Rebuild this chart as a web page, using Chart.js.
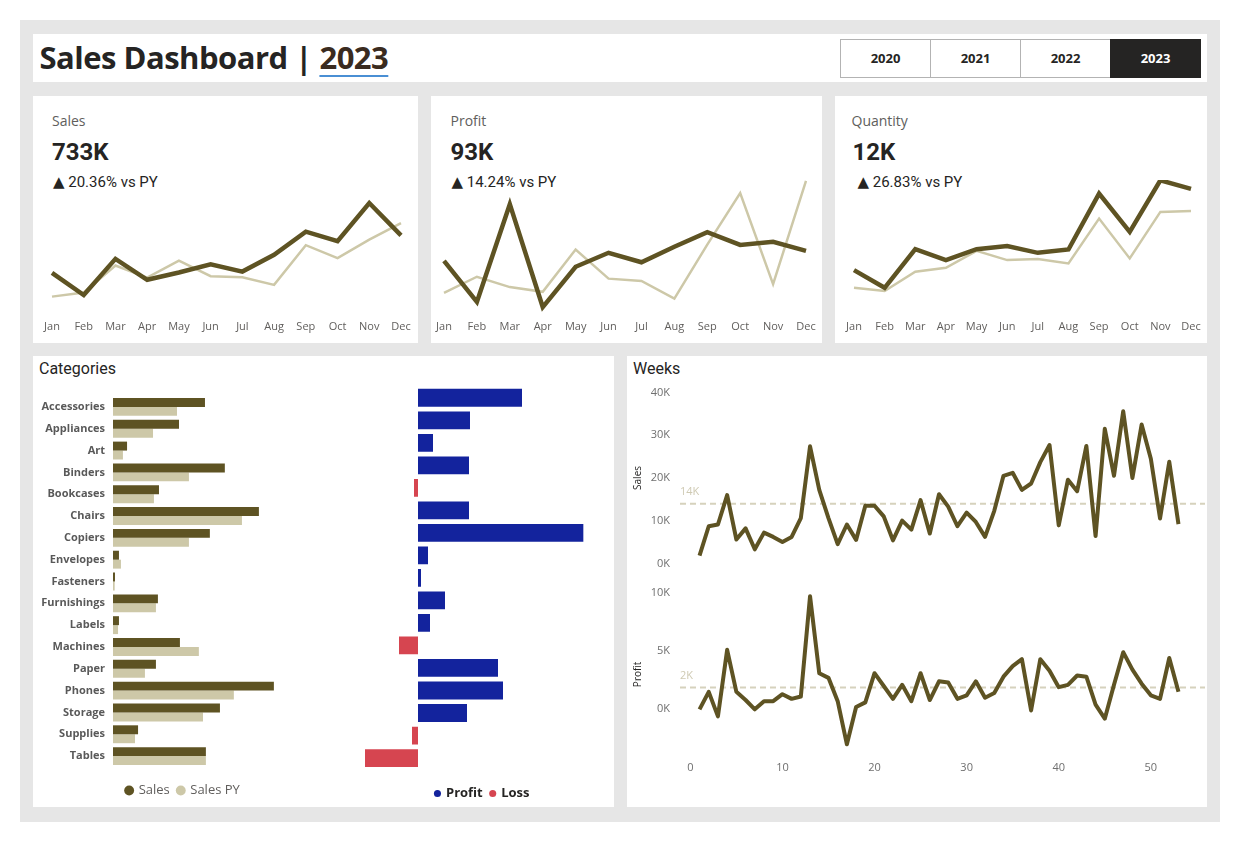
<!DOCTYPE html>
<html>
<head>
<meta charset="utf-8">
<script src="https://cdn.jsdelivr.net/npm/chart.js@4.4.0/dist/chart.umd.min.js"></script>
<style>
  body { margin: 0; width: 1242px; height: 843px; background: #fff; position: relative; overflow: hidden; font-family: "Open Sans", sans-serif; }
  .frame { position: absolute; left: 20px; top: 20px; width: 1200px; height: 802px; background: #e6e6e6; }
  .panel { position: absolute; background: #fff; }
  .title { position: absolute; left: 6.5px; top: 5.3px; font: bold 31px/36px "Open Sans", sans-serif; letter-spacing: -0.5px; color: #252423; white-space: nowrap; }
  .title span { color: #3a2b20; text-decoration: underline; text-decoration-color: #4a8fd4; text-decoration-thickness: 1.5px; text-underline-offset: 6px; }
  .years { position: absolute; left: 841px; top: 39px; height: 39px; display: flex; }
  .years div { width: 89px; height: 37px; border: 1px solid #b3b3b3; margin-left: -1px; font: bold 13px/37px "Open Sans", sans-serif; text-align: center; color: #252423; background: #fff; }
  .years div.on { background: #252423; color: #fff; border-color: #252423; }
  .kt { position: absolute; font: 14px/16px "Open Sans", sans-serif; color: #605e5c; top: 16.6px; }
  .kv { position: absolute; font: bold 24px/28px Roboto, sans-serif; color: #252423; top: 42px; }
  .kd { position: absolute; font: 15px/18px Roboto, "DejaVu Sans", sans-serif; color: #252423; top: 77px; white-space: nowrap; }
  .ptitle { position: absolute; left: 6px; top: 3px; font: 16px/20px Roboto, sans-serif; color: #252423; }
  canvas { position: absolute; }
</style>
</head>
<body>
<div class="frame"></div>
<div class="panel" style="left:33px;top:34px;width:1174px;height:48px;">
  <div class="title">Sales Dashboard | <span>2023</span></div>
</div>
<div class="years">
  <div>2020</div><div>2021</div><div>2022</div><div class="on">2023</div>
</div>

<div class="panel" style="left:33px;top:96px;width:385px;height:247px;">
  <div class="kt" style="left:19px;">Sales</div>
  <div class="kv" id="salesVal" style="left:19px;"></div>
  <div class="kd" id="salesDelta" style="left:20px;"></div>
</div>
<div class="panel" style="left:431px;top:96px;width:391px;height:247px;">
  <div class="kt" style="left:19.5px;">Profit</div>
  <div class="kv" id="profitVal" style="left:19.5px;"></div>
  <div class="kd" id="profitDelta" style="left:20.5px;"></div>
</div>
<div class="panel" style="left:835px;top:96px;width:372px;height:247px;">
  <div class="kt" style="left:16.5px;">Quantity</div>
  <div class="kv" id="qtyVal" style="left:17.5px;"></div>
  <div class="kd" id="qtyDelta" style="left:22.5px;"></div>
</div>

<div class="panel" style="left:33px;top:356px;width:581px;height:451px;">
  <div class="ptitle">Categories</div>
</div>
<div class="panel" style="left:627px;top:356px;width:580px;height:451px;">
  <div class="ptitle">Weeks</div>
</div>

<canvas id="sparkSales" width="389" height="168" style="left:32px;top:170px;"></canvas>
<canvas id="sparkProfit" width="402" height="168" style="left:424px;top:170px;"></canvas>
<canvas id="sparkQty" width="377" height="168" style="left:834px;top:170px;"></canvas>
<canvas id="catSalesChart" width="310" height="423" style="left:33px;top:384px;"></canvas>
<canvas id="catProfitChart" width="256" height="434" style="left:357px;top:376px;"></canvas>
<canvas id="weekSalesChart" width="580" height="190" style="left:627px;top:380px;"></canvas>
<canvas id="weekProfitChart" width="580" height="210" style="left:627px;top:580px;"></canvas>

<script>
const months = ["Jan", "Feb", "Mar", "Apr", "May", "Jun", "Jul", "Aug", "Sep", "Oct", "Nov", "Dec"];
const salesCY = [43971, 20301, 58872, 36522, 44261, 52982, 45264, 63121, 87867, 77777, 118448, 83829];
const salesPY = [18542, 22979, 51716, 38750, 56988, 40345, 39262, 31115, 73410, 59688, 79412, 96999];
const profitCY = [7140, 1614, 14752, 933, 6343, 8223, 6953, 9041, 10992, 9275, 9690, 8483];
const profitPY = [2825, 5005, 3612, 2978, 8662, 4750, 4433, 2062, 9329, 16243, 4011, 17885];
const qtyCY = [603, 360, 890, 740, 890, 932, 840, 886, 1654, 1128, 1836, 1717];
const qtyPY = [360, 315, 580, 634, 867, 740, 754, 695, 1311, 763, 1402, 1416];

const categories = ["Accessories", "Appliances", "Art", "Binders", "Bookcases", "Chairs", "Copiers", "Envelopes",
  "Fasteners", "Furnishings", "Labels", "Machines", "Paper", "Phones", "Storage", "Supplies", "Tables"];
const catSales = [60200, 43200, 9200, 73200, 30100, 95500, 63400, 3900, 1300, 29400, 3900, 43800, 28100, 105300, 70000, 16400, 60800];
const catSalesPY = [41900, 26200, 6500, 49700, 26800, 84400, 49700, 5200, 1100, 28100, 3300, 56200, 20900, 79100, 58900, 14400, 60800];
const catProfit = [15600, 7800, 2250, 7650, -600, 7650, 24800, 1500, 450, 4050, 1800, -2850, 12000, 12750, 7350, -900, -7950];

const weeks = [1, 2, 3, 4, 5, 6, 7, 8, 9, 10, 11, 12, 13, 14, 15, 16, 17, 18, 19, 20, 21, 22, 23, 24, 25, 26, 27,
  28, 29, 30, 31, 32, 33, 34, 35, 36, 37, 38, 39, 40, 41, 42, 43, 44, 45, 46, 47, 48, 49, 50, 51, 52, 53];
const weekSales = [1800, 8700, 9100, 16000, 5600, 8200, 3300, 7200, 6200, 5000, 6200, 10600, 27400, 17200, 10600,
  4500, 9100, 5500, 13500, 13500, 11000, 5400, 10000, 7900, 14800, 7000, 16200, 13300, 8700, 11900, 9700, 6200,
  12300, 20500, 21200, 17200, 18700, 23700, 27700, 8900, 19600, 16900, 27500, 6400, 31500, 20500, 35600, 20000,
  32500, 24500, 10500, 23800, 9200];
const weekProfit = [0, 1500, -600, 5100, 1500, 800, 0, 700, 700, 1300, 900, 1100, 9700, 3100, 2700, 700, -3000,
  200, 600, 3100, 2000, 900, 2100, 700, 3100, 800, 2400, 2300, 900, 1200, 2400, 1000, 1400, 2800, 3700, 4300,
  -100, 4300, 3300, 1900, 2100, 2900, 2800, 400, -800, 2100, 4900, 3400, 2200, 1200, 900, 4400, 1500];

// tick labels
const weekTicks = [0, 10, 20, 30, 40, 50];
const weekSalesTicks = [0, 10000, 20000, 30000, 40000];
const weekProfitTicks = [0, 5000, 10000];

const OLIVE = "#5e5323";
const BEIGE = "#cdc8a8";
const BLUE = "#13239d";
const RED = "#d64550";
const GREY = "#605e5c";

Chart.defaults.font.family = "'Open Sans', sans-serif";
Chart.defaults.animation = false;

const sum = a => a.reduce((s, v) => s + v, 0);
const mean = a => sum(a) / a.length;

function fillKpi(prefix, cy, py) {
  document.getElementById(prefix + "Val").textContent = Math.round(sum(cy) / 1000) + "K";
  const pct = (sum(cy) / sum(py) - 1) * 100;
  document.getElementById(prefix + "Delta").textContent = "▲ " + pct.toFixed(2) + "% vs PY";
}
fillKpi("sales", salesCY, salesPY);
fillKpi("profit", profitCY, profitPY);
fillKpi("qty", qtyCY, qtyPY);

function sparkline(id, cy, py, yMax) {
  new Chart(document.getElementById(id), {
    type: "line",
    data: {
      labels: months,
      datasets: [
        { data: cy, borderColor: OLIVE, borderWidth: 4.5, pointRadius: 0, tension: 0 },
        { data: py, borderColor: BEIGE, borderWidth: 2.5, pointRadius: 0, tension: 0 }
      ]
    },
    options: {
      responsive: false,
      layout: { padding: { left: 20, right: 20, top: 10, bottom: 2 } },
      plugins: { legend: { display: false }, tooltip: { enabled: false } },
      scales: {
        x: {
          grid: { display: false, drawTicks: false },
          border: { display: false },
          ticks: { color: GREY, font: { size: 11 }, padding: 6, maxRotation: 0, autoSkip: false },
          afterFit: s => { s.height = 22; }
        },
        y: { display: false, min: 0, max: yMax }
      }
    }
  });
}
sparkline("sparkSales", salesCY, salesPY, 143000);
sparkline("sparkProfit", profitCY, profitPY, 18000);
sparkline("sparkQty", qtyCY, qtyPY, 1840);

// categories: sales vs previous year
new Chart(document.getElementById("catSalesChart"), {
  type: "bar",
  data: {
    labels: categories,
    datasets: [
      { label: "Sales", data: catSales, backgroundColor: OLIVE },
      { label: "Sales PY", data: catSalesPY, backgroundColor: BEIGE }
    ]
  },
  options: {
    indexAxis: "y",
    responsive: false,
    categoryPercentage: 0.82,
    barPercentage: 1,
    layout: { padding: { top: 12, right: 10, left: 0, bottom: 0 } },
    plugins: {
      tooltip: { enabled: false },
      legend: {
        position: "bottom",
        labels: {
          usePointStyle: true, pointStyle: "circle", boxWidth: 6, boxHeight: 7, padding: 8,
          color: GREY, font: { size: 13 }
        }
      }
    },
    scales: {
      x: {
        min: 0, max: 144000,
        grid: { display: false, drawTicks: false }, border: { display: false },
        ticks: { display: false },
        afterFit: s => { s.height = 9; }
      },
      y: {
        grid: { display: false, drawTicks: true, tickLength: 8 }, border: { display: false },
        ticks: { color: "#595959", font: { size: 11, weight: "bold" }, padding: 0, autoSkip: false },
        afterFit: s => { s.width = 80; }
      }
    }
  }
});

// categories: profit / loss
new Chart(document.getElementById("catProfitChart"), {
  type: "bar",
  data: {
    labels: categories,
    datasets: [
      { label: "Profit", data: catProfit.map(v => v >= 0 ? v : null), backgroundColor: BLUE },
      { label: "Loss", data: catProfit.map(v => v < 0 ? v : null), backgroundColor: RED }
    ]
  },
  options: {
    indexAxis: "y",
    responsive: false,
    categoryPercentage: 0.79,
    barPercentage: 1,
    layout: { padding: { top: 10.5, right: 10, left: 5, bottom: 0 } },
    plugins: {
      tooltip: { enabled: false },
      legend: {
        position: "bottom",
        labels: {
          usePointStyle: true, pointStyle: "circle", boxWidth: 4, boxHeight: 5, padding: 8,
          color: "#252423", font: { size: 13, weight: "bold" }
        }
      }
    },
    scales: {
      x: {
        stacked: true, min: -8400, max: 27750,
        grid: { display: false, drawTicks: false }, border: { display: false },
        ticks: { display: false },
        afterFit: s => { s.height = 9.7; }
      },
      y: { stacked: true, display: false }
    }
  }
});

// weekly charts
const weekMin = -1.12;
const weekMax = 55.88;

const avgLabel = {
  id: "avgLabel",
  afterDatasetsDraw(chart, args, opts) {
    const y = chart.scales.y.getPixelForValue(opts.value);
    const ctx = chart.ctx;
    ctx.save();
    ctx.font = "11px 'Open Sans', sans-serif";
    ctx.fillStyle = "#cfcab3";
    ctx.textBaseline = "middle";
    ctx.textAlign = "left";
    ctx.fillText(Math.round(opts.value / 1000) + "K", chart.chartArea.left, y - 11.5);
    ctx.restore();
  }
};

function weekChart(id, values, yMin, yMax, yTicks, title, showX, pad) {
  const avg = mean(values);
  const xScale = {
    type: "linear", display: showX, min: weekMin, max: weekMax,
    grid: { display: false, drawTicks: false }, border: { display: false },
    ticks: { color: "#6f6f6f", font: { size: 11 }, padding: 5 },
    afterBuildTicks: s => { s.ticks = weekTicks.map(v => ({ value: v })); }
  };
  if (showX) xScale.afterFit = s => { s.height = 28; };
  new Chart(document.getElementById(id), {
    type: "line",
    data: {
      datasets: [
        {
          data: values.map((v, i) => ({ x: weeks[i], y: v })),
          borderColor: OLIVE, borderWidth: 4, pointRadius: 0, tension: 0, borderJoinStyle: "round"
        },
        {
          data: [{ x: weekMin, y: avg }, { x: weekMax, y: avg }],
          borderColor: "#d6d2bd", borderWidth: 2, borderDash: [6, 4], pointRadius: 0
        }
      ]
    },
    plugins: [avgLabel],
    options: {
      responsive: false,
      layout: { padding: pad },
      plugins: { legend: { display: false }, tooltip: { enabled: false }, avgLabel: { value: avg } },
      scales: {
        x: xScale,
        y: {
          min: yMin, max: yMax,
          grid: { display: false, drawTicks: true, tickLength: 10 }, border: { display: false },
          ticks: {
            color: "#6f6f6f", font: { size: 11 }, padding: 0,
            callback: v => (v / 1000) + "K"
          },
          afterBuildTicks: s => { s.ticks = yTicks.map(v => ({ value: v })); },
          title: { display: true, text: title, color: "#252423", font: { size: 10 }, padding: { top: 5, bottom: 0 } },
          afterFit: s => { s.width = 53; }
        }
      }
    }
  });
}
weekChart("weekSalesChart", weekSales, 0, 40000, weekSalesTicks, "Sales", false, { top: 12.5, bottom: 6, left: 0, right: 2 });
weekChart("weekProfitChart", weekProfit, -4000, 10000, weekProfitTicks, "Profit", true, { top: 12.7, bottom: 6, left: 0, right: 2 });
</script>
</body>
</html>
